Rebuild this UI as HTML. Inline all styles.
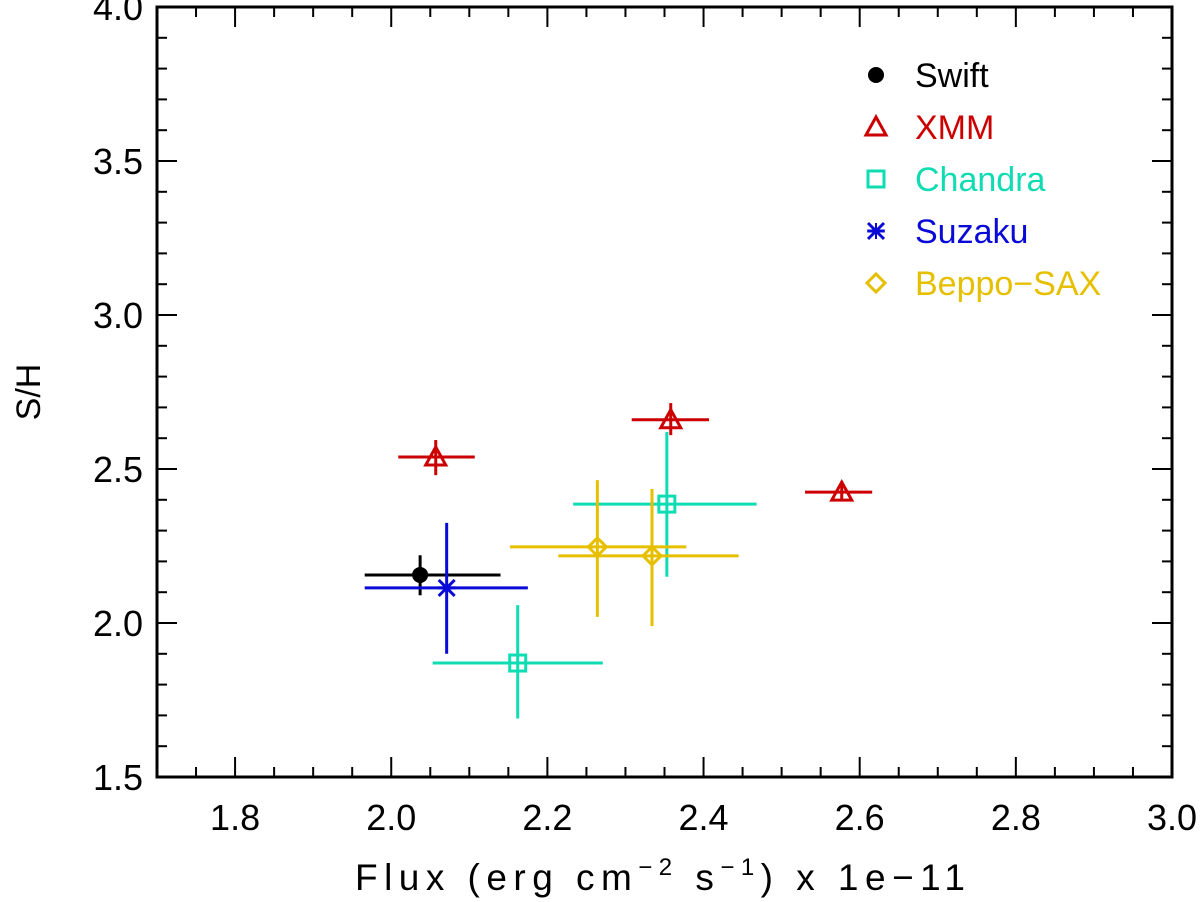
<!DOCTYPE html>
<html><head><meta charset="utf-8"><style>
html,body{margin:0;padding:0;background:#fff;}
svg{display:block;font-family:"Liberation Sans","DejaVu Sans",sans-serif;}
</style></head><body>
<svg id="chart" width="1200" height="902" viewBox="0 0 1200 902" xmlns="http://www.w3.org/2000/svg">
<g id="ticks"></g>
<g id="marks"></g>
<rect x="157" y="7" width="1015" height="770" fill="none" stroke="#000" stroke-width="3"/>
<text x="40" y="392" font-size="34" text-anchor="middle" transform="rotate(-90 40 392)">S/H</text>
<text x="660" y="890" font-size="37" text-anchor="middle" textLength="610" lengthAdjust="spacing">Flux (erg cm<tspan dy="-15" font-size="24">−2</tspan><tspan dy="15"> s</tspan><tspan dy="-15" font-size="24">−1</tspan><tspan dy="15">) x 1e−11</tspan></text>
<g id="legend"></g>
</svg>
<script>
const xTicks=[1.8,2.0,2.2,2.4,2.6,2.8,3.0];
const xTickLabels=["1.8","2.0","2.2","2.4","2.6","2.8","3.0"];
const yTicks=[1.5,2.0,2.5,3.0,3.5,4.0];
const yTickLabels=["1.5","2.0","2.5","3.0","3.5","4.0"];
const seriesNames=["Swift","XMM","Chandra","Suzaku","Beppo-SAX"];
const seriesColors=["#000000","#cc0000","#10dcb4","#0a0ad8","#e6c000"];
const seriesSymbols=["circle","triangle","square","star","diamond"];
const swiftX=[2.037],swiftY=[2.156],swiftXlo=[1.966],swiftXhi=[2.14],swiftYlo=[2.09],swiftYhi=[2.22];
const xmmX=[2.057,2.358,2.577],xmmY=[2.539,2.66,2.425],xmmXlo=[2.009,2.308,2.53],xmmXhi=[2.107,2.407,2.616],xmmYlo=[2.48,2.61,2.396],xmmYhi=[2.594,2.714,2.46];
const chandraX=[2.353,2.162],chandraY=[2.386,1.87],chandraXlo=[2.233,2.053],chandraXhi=[2.468,2.271],chandraYlo=[2.15,1.69],chandraYhi=[2.62,2.058];
const suzakuX=[2.071],suzakuY=[2.114],suzakuXlo=[1.966],suzakuXhi=[2.175],suzakuYlo=[1.9],suzakuYhi=[2.325];
const beppoX=[2.264,2.334],beppoY=[2.247,2.218],beppoXlo=[2.152,2.214],beppoXhi=[2.378,2.445],beppoYlo=[2.02,1.99],beppoYhi=[2.464,2.435];

const NS="http://www.w3.org/2000/svg";
const X0=157,X1=1172,Y0=777,Y1=7;
function sx(v){return X0+(v-1.7)/(3.0-1.7)*(X1-X0);}
function sy(v){return Y0-(v-1.5)/(4.0-1.5)*(Y0-Y1);}
function mk(tag,at,parent){const e=document.createElementNS(NS,tag);for(const k in at)e.setAttribute(k,at[k]);parent.appendChild(e);return e;}
const tk=document.getElementById('ticks');
function line(p,x1,y1,x2,y2,c,w){return mk('line',{x1:x1,y1:y1,x2:x2,y2:y2,stroke:c,'stroke-width':w},p);}
for(let i=0;i<=26;i++){const v=1.7+i*0.05;const x=sx(v);
 const L=(Math.round(v*100)%20===0)?20:10;
 const a=line(tk,x,Y0,x,Y0-L,'#000',2);
 const b=line(tk,x,Y1,x,Y1+L,'#000',2);}
for(let i=0;i<=25;i++){const v=1.5+i*0.1;const y=sy(v);const L=(i%5===0)?20:10;
 const a=line(tk,X0,y,X0+L,y,'#000',2);
 const b=line(tk,X1,y,X1-L,y,'#000',2);}
xTicks.forEach((v,i)=>{const t=mk('text',{x:sx(v),y:830,'font-size':36,'text-anchor':'middle'},tk);t.textContent=xTickLabels[i];
 });
yTicks.forEach((v,i)=>{const t=mk('text',{x:143,y:sy(v)+13,'font-size':36,'text-anchor':'end'},tk);t.textContent=yTickLabels[i];
 });

function symbol(p,type,x,y,c){
 const g=mk('g',{},p);
 if(type==='circle')mk('circle',{cx:x,cy:y,r:8,fill:c},g);
 else if(type==='triangle')mk('polygon',{points:`${x},${y-10} ${x-10},${y+8} ${x+10},${y+8}`,fill:'none',stroke:c,'stroke-width':3},g);
 else if(type==='square')mk('rect',{x:x-8,y:y-8,width:16,height:16,fill:'none',stroke:c,'stroke-width':3},g);
 else if(type==='diamond')mk('polygon',{points:`${x},${y-9} ${x+9},${y} ${x},${y+9} ${x-9},${y}`,fill:'none',stroke:c,'stroke-width':3},g);
 else if(type==='star'){const r=8;line(g,x-r,y-r,x+r,y+r,c,3);line(g,x-r,y+r,x+r,y-r,c,3);line(g,x-r*1.1,y,x+r*1.1,y,c,3);line(g,x,y-r,x,y+r,c,2);}
 return g;}
const mg=document.getElementById('marks');
const groups=[[swiftX,swiftY,swiftXlo,swiftXhi,swiftYlo,swiftYhi],[xmmX,xmmY,xmmXlo,xmmXhi,xmmYlo,xmmYhi],[chandraX,chandraY,chandraXlo,chandraXhi,chandraYlo,chandraYhi],[suzakuX,suzakuY,suzakuXlo,suzakuXhi,suzakuYlo,suzakuYhi],[beppoX,beppoY,beppoXlo,beppoXhi,beppoYlo,beppoYhi]];
groups.forEach((g,s)=>{const c=seriesColors[s];
 g[0].forEach((xv,i)=>{const pg=mk('g',{},mg);
  
  
  line(pg,sx(g[2][i]),sy(g[1][i]),sx(g[3][i]),sy(g[1][i]),c,3);
  line(pg,sx(xv),sy(g[4][i]),sx(xv),sy(g[5][i]),c,3);
  symbol(pg,seriesSymbols[s],sx(xv),sy(g[1][i]),c);});});
const lg=document.getElementById('legend');
seriesNames.forEach((n,i)=>{const y=75+i*52;const eg=mk('g',{},lg);
 
 
 symbol(eg,seriesSymbols[i],876,y,seriesColors[i]);
 const t=mk('text',{x:915,y:y+12,'font-size':34,fill:seriesColors[i]},eg);t.textContent=n.replace('-','−');});
</script>
</body></html>
